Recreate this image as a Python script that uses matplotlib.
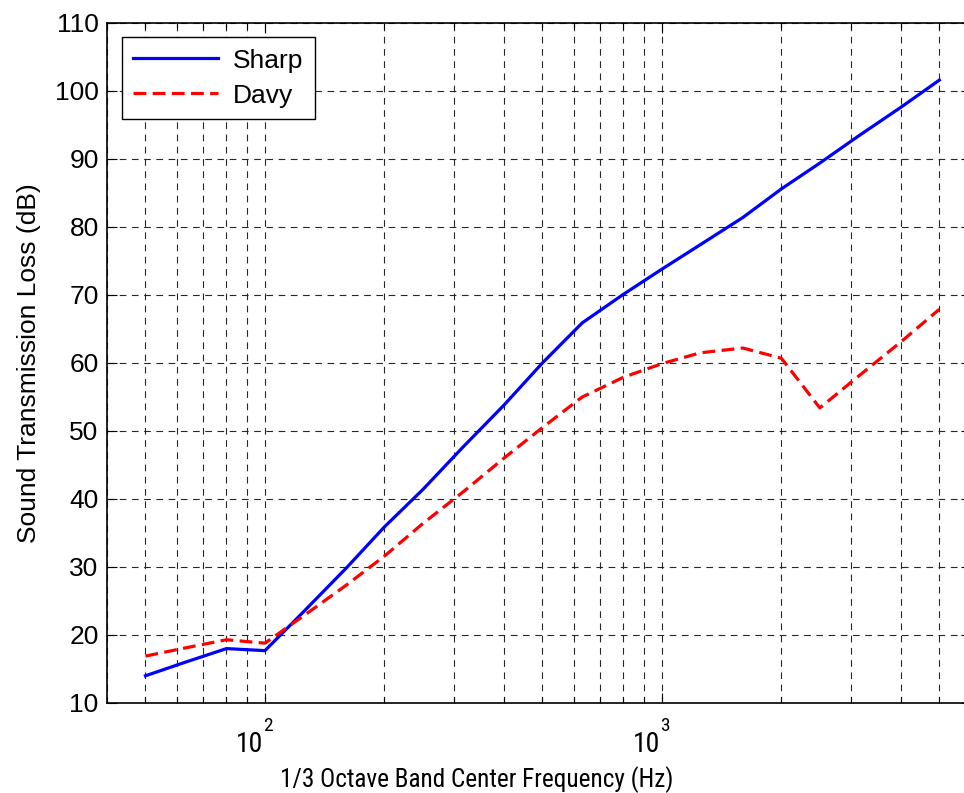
import matplotlib
matplotlib.use("Agg")
import matplotlib.pyplot as plt
import matplotlib.transforms as mtransforms
from matplotlib.ticker import LogLocator, FixedLocator, NullFormatter
from matplotlib import font_manager

plt.rcParams['font.family'] = ['Liberation Sans', 'DejaVu Sans']

names = {f.name for f in font_manager.fontManager.ttflist}
narrow = ['Liberation Sans']
for cand in ('Roboto Condensed', 'Archivo Narrow', 'PT Sans Narrow'):
    if cand in names:
        narrow = [cand, 'Liberation Sans']
        break

freq = [50, 63, 80, 100, 125, 160, 200, 250, 315, 400, 500, 630, 800,
        1000, 1250, 1600, 2000, 2500, 3150, 4000, 5000]
sharp = [14.0, 16.0, 18.0, 17.7, 23.4, 29.8, 35.9, 41.4, 47.6, 53.8, 60.0,
         65.9, 70.1, 73.8, 77.4, 81.4, 85.6, 89.4, 93.5, 97.6, 101.6]
davy = [16.9, 18.1, 19.3, 18.8, 22.8, 27.3, 31.6, 36.4, 41.0, 46.0, 50.5,
        55.0, 57.9, 59.9, 61.5, 62.2, 60.7, 53.4, 58.2, 63.1, 67.9]

yticks = [10, 20, 30, 40, 50, 60, 70, 80, 90, 100, 110]
xmajor = [100, 1000]
xmajor_base = ['10', '10']
xmajor_exp = ['2', '3']
xlabel = "1/3 Octave Band Center Frequency (Hz)"
ylabel = "Sound Transmission Loss (dB)"

fig = plt.figure(figsize=(9.64, 7.93), dpi=100)
ax = fig.add_axes([0.111, 0.1135, 0.896, 0.8575])

ax.plot(freq, sharp, color='#0000ff', lw=2.3, label='Sharp', zorder=3)
ax.plot(freq, davy, color='#ff0000', lw=2.3, ls=(0, (4, 2)), label='Davy', zorder=3)

ax.set_xscale('log')
ax.set_xlim(40, 6000)
ax.set_ylim(10, 110)
ax.set_yticks(yticks)

ax.xaxis.set_major_locator(FixedLocator(xmajor))
ax.xaxis.set_major_formatter(NullFormatter())
ax.xaxis.set_minor_locator(LogLocator(base=10, subs=range(2, 10), numticks=20))
ax.xaxis.set_minor_formatter(NullFormatter())

grid_kw = dict(color='0.15', lw=0.8, ls=(0, (6, 5)))
ax.grid(True, which='major', axis='both', **grid_kw)
ax.grid(True, which='minor', axis='x', **grid_kw)

ax.tick_params(axis='both', which='both', direction='in', top=True, right=True,
               labelsize=19, width=0.8)
ax.tick_params(axis='both', which='major', length=7)
ax.tick_params(axis='x', which='minor', length=4)
ax.tick_params(axis='y', which='major', pad=6)

for s in ax.spines.values():
    s.set_linewidth(1.2)

# x major tick labels drawn as base + raised exponent
trans_x = mtransforms.blended_transform_factory(ax.transData, ax.transAxes)
for xv, b, e in zip(xmajor, xmajor_base, xmajor_exp):
    t1 = mtransforms.offset_copy(trans_x, fig=fig, x=-15.5 / 100 * 72, y=-49 / 100 * 72, units='points')
    ax.text(xv, 0, b, transform=t1, ha='center', va='baseline', fontsize=20,
            family=narrow, clip_on=False)
    t2 = mtransforms.offset_copy(trans_x, fig=fig, x=-2 / 100 * 72, y=-28 / 100 * 72, units='points')
    ax.text(xv, 0, e, transform=t2, ha='left', va='baseline', fontsize=14,
            family=narrow, clip_on=False)

fig.text(477 / 964, 1 - 787 / 793, xlabel, ha='center', va='baseline',
         fontsize=18.2, family=narrow)
ax.set_ylabel(ylabel, fontsize=19, labelpad=10)

leg = ax.legend(loc='upper left', fontsize=19, frameon=True, fancybox=False,
                edgecolor='black', framealpha=1, handlelength=3.2,
                borderpad=0.43, labelspacing=0.42, handletextpad=0.57,
                bbox_to_anchor=(0.0175, 0.979), borderaxespad=0)
leg.get_frame().set_linewidth(1.0)

fig.savefig('out.png', dpi=100)
